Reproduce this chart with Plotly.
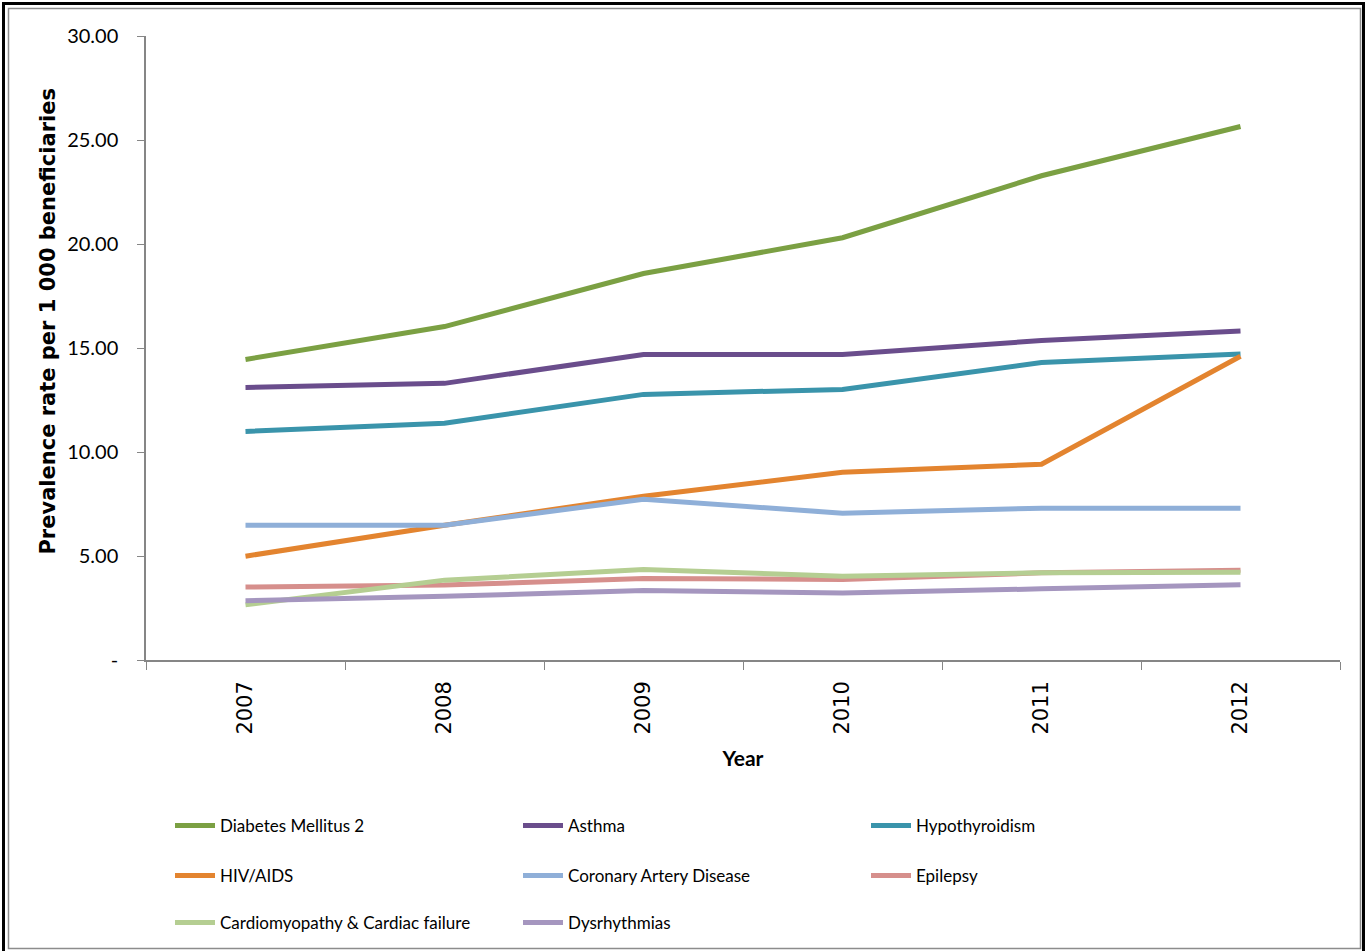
import plotly.graph_objects as go

years = ["2007", "2008", "2009", "2010", "2011", "2012"]

diabetes = [14.45, 16.03, 18.58, 20.30, 23.28, 25.65]
asthma = [13.10, 13.30, 14.69, 14.69, 15.36, 15.82]
hypothyroidism = [10.99, 11.38, 12.77, 13.01, 14.30, 14.71]
hiv_aids = [4.99, 6.48, 7.87, 9.03, 9.41, 14.60]
coronary = [6.48, 6.48, 7.73, 7.06, 7.30, 7.30]
epilepsy = [3.51, 3.60, 3.92, 3.87, 4.19, 4.31]
cardiomyopathy = [2.65, 3.84, 4.35, 4.03, 4.19, 4.22]
dysrhythmias = [2.85, 3.06, 3.34, 3.22, 3.42, 3.62]

series_names = [
    "Diabetes Mellitus 2", "Asthma", "Hypothyroidism",
    "HIV/AIDS", "Coronary Artery Disease", "Epilepsy",
    "Cardiomyopathy & Cardiac failure", "Dysrhythmias",
]
series_values = [diabetes, asthma, hypothyroidism, hiv_aids, coronary,
                 epilepsy, cardiomyopathy, dysrhythmias]
series_colors = ["#7BA043", "#6A4D8C", "#3A94AB", "#E3842F",
                 "#8FAFD8", "#D68F8C", "#B5CE92", "#A596BF"]
legend_rows = ["legend", "legend", "legend", "legend2", "legend2", "legend2",
               "legend3", "legend3"]

y_tick_vals = [0, 5, 10, 15, 20, 25, 30]
y_tick_text = ["-", "5.00", "10.00", "15.00", "20.00", "25.00", "30.00"]

W, H = 1370, 951
L, R, T, B = 146, 30, 36, 290
PW, PH = W - L - R, H - T - B


def px(x):
    return (x - L) / PW


def py(y):
    return (H - B - y) / PH


NARROW = "Lato, sans-serif"

fig = go.Figure()
for name, vals, col, lg in zip(series_names, series_values, series_colors, legend_rows):
    fig.add_trace(go.Scatter(
        x=years, y=vals, name=name, mode="lines",
        line=dict(color=col, width=5),
        legend=lg,
    ))

leg_common = dict(
    orientation="h", xanchor="left", yanchor="middle",
    font=dict(family=NARROW, size=17, color="#000000"),
    entrywidth=293, entrywidthmode="pixels", itemwidth=40,
    bgcolor="rgba(0,0,0,0)", borderwidth=0, traceorder="normal",
)

fig.update_layout(
    width=W, height=H,
    margin=dict(l=L, r=R, t=T, b=B, pad=0),
    paper_bgcolor="white", plot_bgcolor="white",
    showlegend=True,
    legend=dict(x=px(170), y=py(826), **leg_common),
    legend2=dict(x=px(170), y=py(876), **leg_common),
    legend3=dict(x=px(170), y=py(923), **leg_common),
    xaxis=dict(
        type="category", range=[-0.5, 5.5],
        showline=True, linecolor="#868686", linewidth=1.5,
        ticks="outside", ticklen=8, tickcolor="#868686", tickwidth=1.3,
        tickson="boundaries", tickangle=-90,
        tickfont=dict(family="DejaVu Sans", size=21, color="#000000"),
        ticklabelstandoff=11,
        showgrid=False, zeroline=False,
        title=dict(text="<b>Year</b>", standoff=18,
                   font=dict(family=NARROW, size=21, color="#000000")),
    ),
    yaxis=dict(
        range=[0, 30], tickvals=y_tick_vals, ticktext=y_tick_text,
        showline=True, linecolor="#868686", linewidth=1.5,
        ticks="outside", ticklen=7, tickcolor="#868686", tickwidth=1.3,
        tickfont=dict(family=NARROW, size=20, color="#000000"),
        ticklabelstandoff=15,
        showgrid=False, zeroline=False,
    ),
    annotations=[dict(
        text="<b>Prevalence rate per 1 000 beneficiaries</b>",
        textangle=-90, xref="paper", yref="paper",
        x=px(48), y=py(322), xanchor="center", yanchor="middle",
        showarrow=False,
        font=dict(family="DejaVu Sans", size=21, color="#000000"),
    )],
    shapes=[
        dict(type="rect", xref="paper", yref="paper",
             x0=px(3.5), x1=px(1363.5), y0=py(954), y1=py(3.5),
             line=dict(color="#000000", width=3), fillcolor="rgba(0,0,0,0)",
             layer="above"),
        dict(type="rect", xref="paper", yref="paper",
             x0=px(8.5), x1=px(1360.5), y0=py(950), y1=py(8.5),
             line=dict(color="#8C8C8C", width=1.5), fillcolor="rgba(0,0,0,0)",
             layer="above"),
    ],
)

fig.write_html("out.html")
